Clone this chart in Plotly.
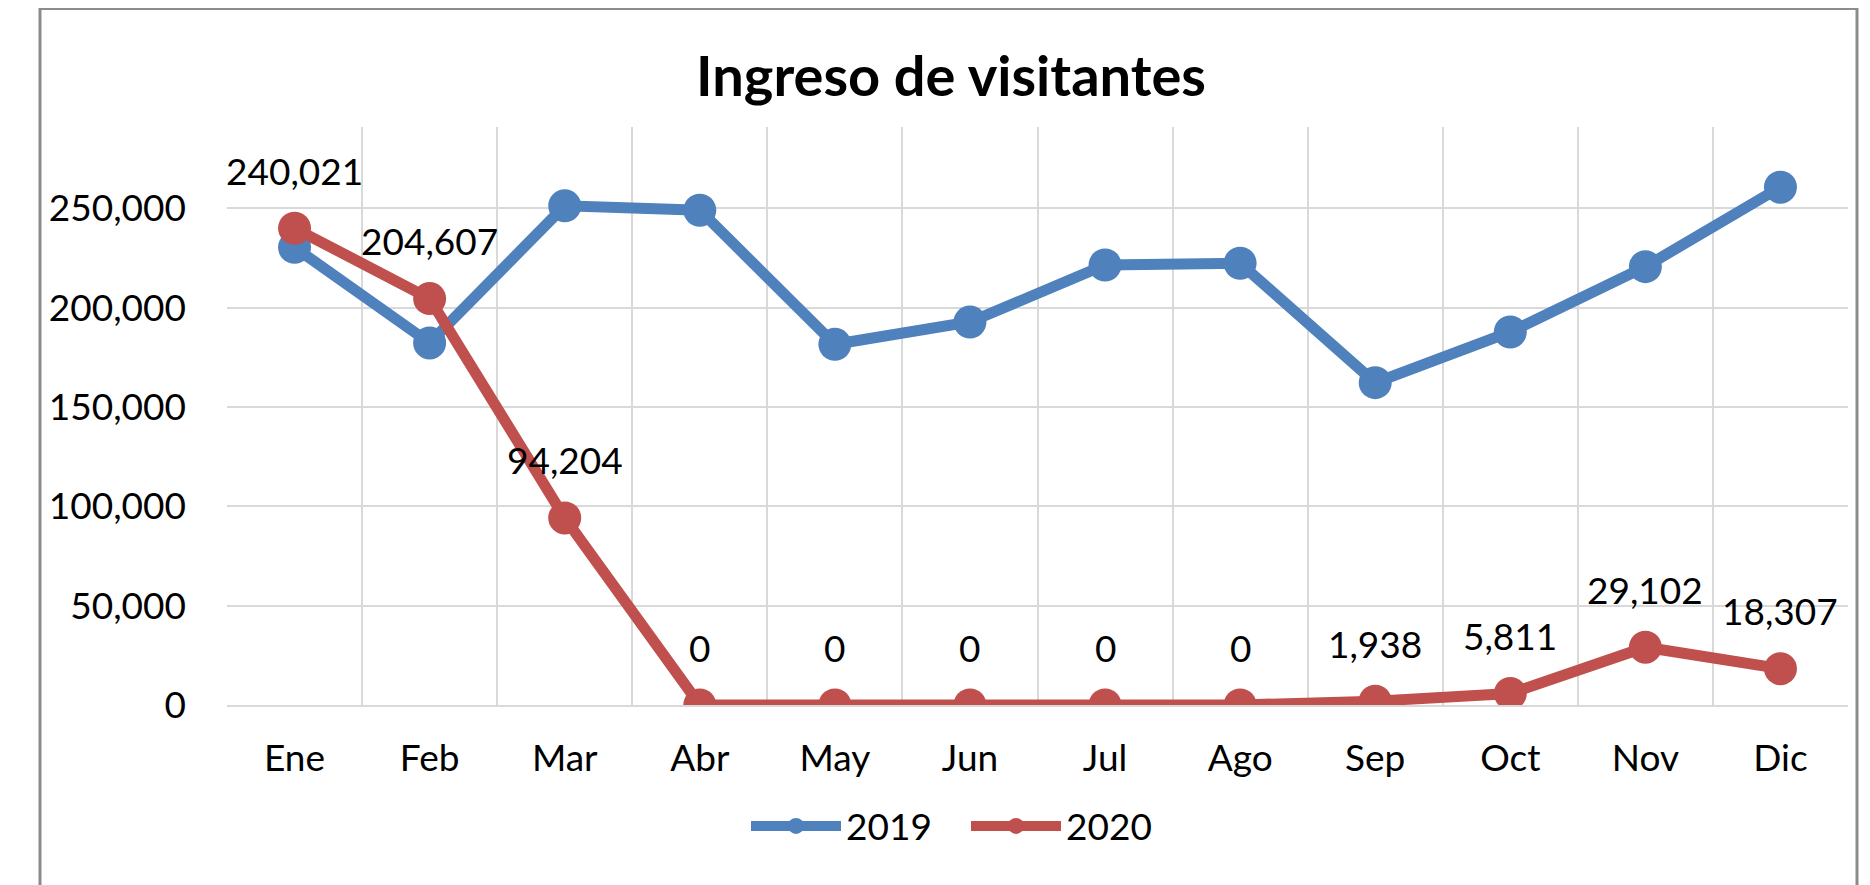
import plotly.graph_objects as go

months = ["Ene", "Feb", "Mar", "Abr", "May", "Jun", "Jul", "Ago", "Sep", "Oct", "Nov", "Dic"]
v2019 = [230400, 182300, 251300, 249100, 181600, 192800, 221500, 222400, 162300, 187800, 220700, 260700]
v2020 = [240021, 204607, 94204, 0, 0, 0, 0, 0, 1938, 5811, 29102, 18307]
y_ticks = [0, 50000, 100000, 150000, 200000, 250000]

BLUE = "#4F81BD"
RED = "#C0504D"
GRID = "#D9D9D9"
FONT = "Lato"

# figure geometry (page has an 8px body margin)
L, R, T, B = 219, 1840, 119, 697.5
W, H = 1870, 885
PW, PH = R - L, B - T

fig = go.Figure()
fig.add_trace(go.Scatter(
    x=months, y=v2019, name="2019", mode="lines+markers",
    line=dict(color=BLUE, width=11), marker=dict(color=BLUE, size=33),
))
fig.add_trace(go.Scatter(
    x=months, y=v2020, name="2020", mode="lines+markers",
    line=dict(color=RED, width=11), marker=dict(color=RED, size=33),
))

for m, v in zip(months, v2020):
    fig.add_annotation(x=m, y=v, text=f"{v:,}", showarrow=False, yshift=58,
                       font=dict(family=FONT, size=37, color="#000000"))

fig.update_layout(
    width=W, height=H,
    margin=dict(l=L, r=W - R, t=T, b=H - B),
    paper_bgcolor="white", plot_bgcolor="white",
    font=dict(family=FONT, size=37, color="#000000"),
    title=dict(text="<b>Ingreso de visitantes</b>", x=943 / W, xref="container", xanchor="center",
               y=1 - 68 / H, yref="container", yanchor="middle",
               font=dict(family=FONT, size=56, color="#000000")),
    showlegend=True,
    legend=dict(orientation="h", x=(958 - L) / PW, xanchor="center", y=(B - 819) / PH, yanchor="middle",
                font=dict(family=FONT, size=37, color="#000000"), itemwidth=90,
                entrywidth=115, bgcolor="rgba(0,0,0,0)"),
    xaxis=dict(type="category", range=[-0.5, 11.5], tickson="boundaries",
               showgrid=True, gridcolor=GRID, gridwidth=2,
               showline=True, linecolor=GRID, linewidth=2,
               ticks="", ticklabelstandoff=20, fixedrange=True),
    yaxis=dict(range=[0, 291000], tickvals=y_ticks, tickformat=",d",
               showgrid=True, gridcolor=GRID, gridwidth=2, zeroline=False,
               showline=False, ticks="", ticklabelstandoff=40, fixedrange=True),
    shapes=[dict(type="rect", xref="paper", yref="paper",
                 x0=(32 - L) / PW, x1=(1849 - L) / PW,
                 y0=-0.5, y1=(B - 0.5) / PH,
                 line=dict(color="#8C8C8C", width=3), fillcolor="rgba(0,0,0,0)", layer="below")],
)

fig.write_html("out.html")
